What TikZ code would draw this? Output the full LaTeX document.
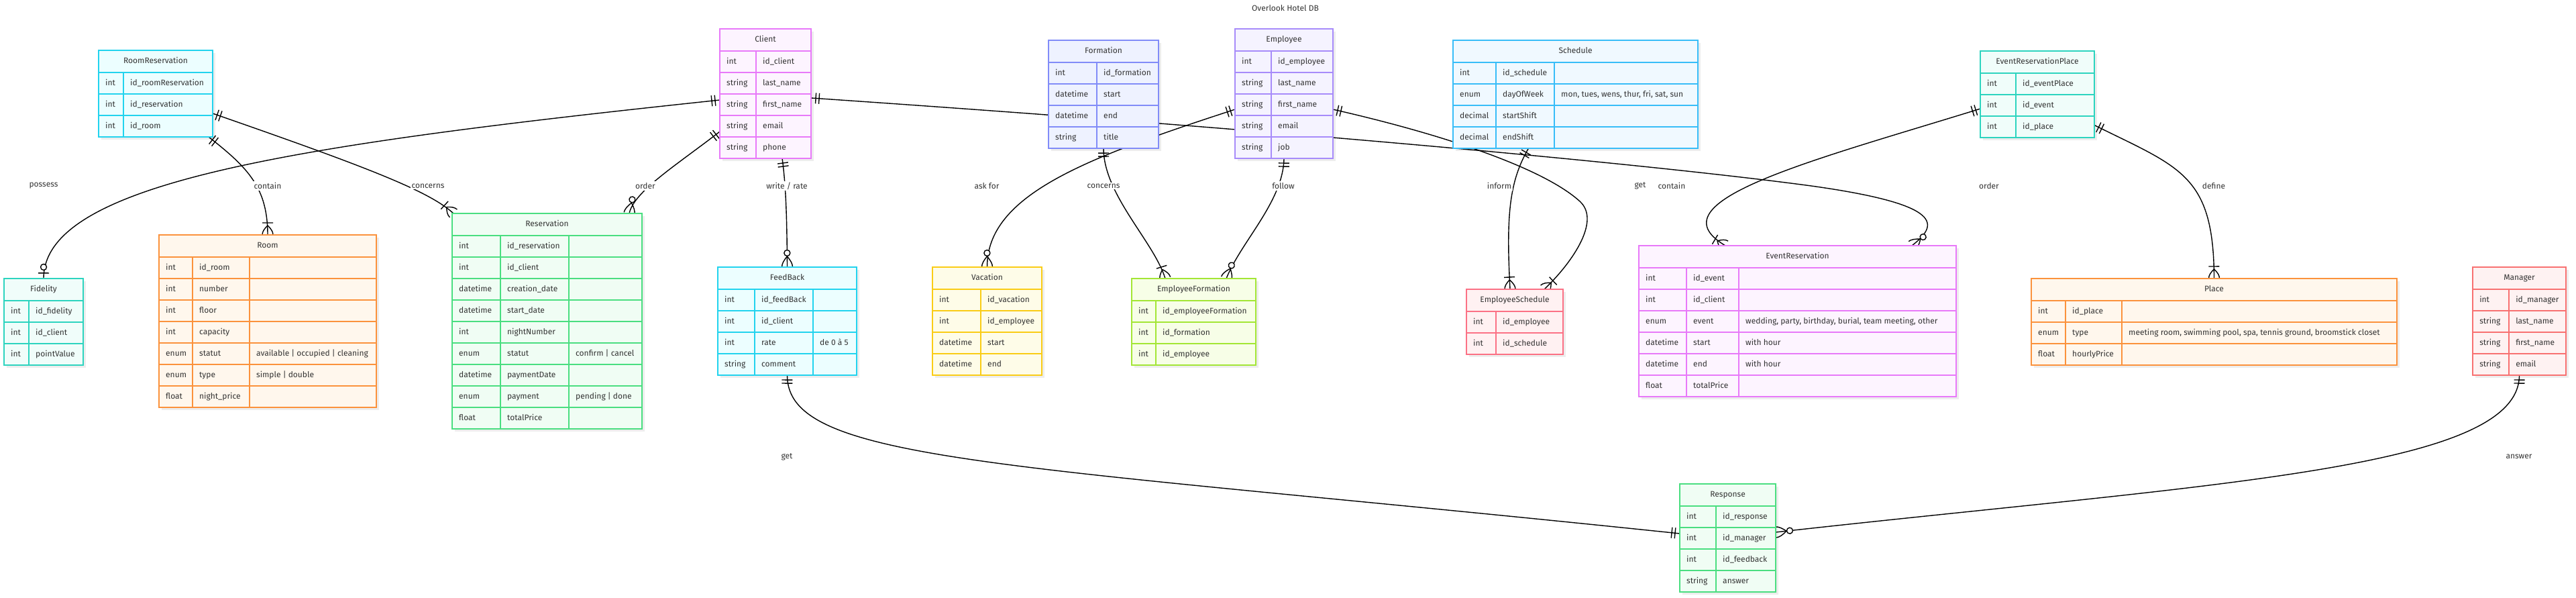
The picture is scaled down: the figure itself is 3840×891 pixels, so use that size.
\documentclass[tikz,border=0pt]{standalone}
\usepackage{fontspec}
\setmainfont{Fira Sans}
\usetikzlibrary{decorations.markings}

\definecolor{ertext}{HTML}{333333}
\definecolor{cyanA}{HTML}{22D3EE}   \definecolor{cyanB}{HTML}{ECFEFF}
\definecolor{tealA}{HTML}{2DD4BF}   \definecolor{tealB}{HTML}{F0FDFA}
\definecolor{orangeA}{HTML}{FB923C} \definecolor{orangeB}{HTML}{FFF7ED}
\definecolor{pinkA}{HTML}{E879F9}   \definecolor{pinkB}{HTML}{FDF4FF}
\definecolor{greenA}{HTML}{4ADE80}  \definecolor{greenB}{HTML}{F0FDF4}
\definecolor{indigoA}{HTML}{818CF8} \definecolor{indigoB}{HTML}{EEF2FF}
\definecolor{violetA}{HTML}{A78BFA} \definecolor{violetB}{HTML}{F5F3FF}
\definecolor{skyA}{HTML}{38BDF8}    \definecolor{skyB}{HTML}{F0F9FF}
\definecolor{yellowA}{HTML}{FACC15} \definecolor{yellowB}{HTML}{FEFCE8}
\definecolor{limeA}{HTML}{A3E635}   \definecolor{limeB}{HTML}{F7FEE7}
\definecolor{roseA}{HTML}{FB7185}   \definecolor{roseB}{HTML}{FFF1F2}
\definecolor{redA}{HTML}{F87171}    \definecolor{redB}{HTML}{FEF2F2}

\pgfdeclarelayer{shadow}
\pgfdeclarelayer{edges}
\pgfsetlayers{shadow,edges,main}

\newcommand\erfont{\fontsize{12pt}{14pt}\selectfont}
\def\ernone{-}

% crow's foot ends, drawn with the table at x=0 and the line coming from x<0
\newcommand\mkone{\draw[line width=1.4pt, black] (-7,-8) -- (-7,8) (-12,-8) -- (-12,8);}
\newcommand\mkzeroone{\draw[line width=1.4pt, black] (-8,-8) -- (-8,8);
  \draw[line width=1.4pt, black, fill=white] (-17,0) circle (4.5pt);}
\newcommand\mkonemany{\draw[line width=1.4pt, black] (-18,-8) -- (-18,8)
  (-14,0) .. controls (-9,5) and (-5,8) .. (0,8)
  (-14,0) .. controls (-9,-5) and (-5,-8) .. (0,-8);}
\newcommand\mkzeromany{\draw[line width=1.4pt, black]
  (-16,0) .. controls (-10,5) and (-5,8) .. (0,8)
  (-16,0) .. controls (-10,-5) and (-5,-8) .. (0,-8);
  \draw[line width=1.4pt, black, fill=white] (-21,0) circle (4.5pt);}

\tikzset{
  cyanbox/.style={draw=cyanA, fill=cyanB},
  tealbox/.style={draw=tealA, fill=tealB},
  orangebox/.style={draw=orangeA, fill=orangeB},
  pinkbox/.style={draw=pinkA, fill=pinkB},
  greenbox/.style={draw=greenA, fill=greenB},
  indigobox/.style={draw=indigoA, fill=indigoB},
  violetbox/.style={draw=violetA, fill=violetB},
  skybox/.style={draw=skyA, fill=skyB},
  yellowbox/.style={draw=yellowA, fill=yellowB},
  limebox/.style={draw=limeA, fill=limeB},
  rosebox/.style={draw=roseA, fill=roseB},
  redbox/.style={draw=redA, fill=redB},
  tablebox/.style={line width=2.4pt, inner sep=0pt, outer sep=0pt},
  rowline/.style={line width=2pt, fill=none},
  fieldtext/.style={anchor=west, inner sep=0pt, text=ertext, text height=9pt, text depth=2.5pt, font=\erfont},
  headtext/.style={inner sep=0pt, text=ertext, text height=9pt, text depth=2.5pt, font=\erfont},
  edgelabel/.style={fill=white, inner sep=2pt, text=ertext, font=\erfont},
  rel/.style={line width=1.4pt, black},
  one start/.style={postaction={decorate, decoration={markings,
      mark=at position 0.05pt with {\begin{scope}[xscale=-1]\mkone\end{scope}}}}},
  one end/.style={postaction={decorate, decoration={markings, mark=at position -0.05pt with {\mkone}}}},
  zeroone end/.style={postaction={decorate, decoration={markings, mark=at position -0.05pt with {\mkzeroone}}}},
  onemany end/.style={postaction={decorate, decoration={markings, mark=at position -0.05pt with {\mkonemany}}}},
  zeromany end/.style={postaction={decorate, decoration={markings, mark=at position -0.05pt with {\mkzeromany}}}}
}

% #1 name, #2 colours, #3 left, #4 top, #5 right, #6 rows, #7 column lines, #8 title, #9 type/field/comment
\newcommand\ertable[9]{%
  \pgfmathsetmacro\erbot{#4+33+32*#6}%
  \pgfmathsetmacro\erwid{#5-#3}%
  \pgfmathsetmacro\erhgt{33+32*#6}%
  \begin{pgfonlayer}{shadow}
    \fill[black!7] (#3+4,#4+4) rectangle (#5+4,\erbot+4);
  \end{pgfonlayer}
  \node[tablebox, #2, minimum width=\erwid pt, minimum height=\erhgt pt, anchor=north west] (#1) at (#3,#4) {};
  \node[headtext] (#1-title) at ({(#3+#5)/2}, #4+16.5) {#8};
  \foreach \k in {1,...,#6} \draw[#2, rowline] (#3, {#4+33+32*(\k-1)}) -- (#5, {#4+33+32*(\k-1)});
  \foreach \d [count=\j] in {#7} {
    \draw[#2, rowline] (\d, #4+33) -- (\d, \erbot);
    \coordinate (#1-d\j) at (\d, #4);
  }
  \foreach \ty/\fd/\cm [count=\i] in {#9} {
    \coordinate (#1-r\i) at (#3, {#4+33+32*\i-16});
    \node[fieldtext, xshift=10pt] (#1-t\i) at (#1-r\i) {\ty};
    \node[fieldtext, xshift=10pt] (#1-f\i) at (#1-d1 |- #1-r\i) {\fd};
    \ifx\cm\ernone\else
      \node[fieldtext, xshift=10pt] (#1-c\i) at (#1-d2 |- #1-r\i) {\cm};
    \fi
  }
}

\begin{document}
\begin{tikzpicture}[x=1pt, y=-1pt]
    \useasboundingbox (0,0) rectangle (3840,891);
    \node[headtext] (title) at (1916,13) {Overlook Hotel DB};

    % Tables (Left)
    \ertable{roomres}{cyanbox}{147}{75}{317}{3}{184}{RoomReservation}
      {int/id\_roomReservation/-, int/id\_reservation/-, int/id\_room/-}
    \ertable{fidelity}{tealbox}{6}{415}{124}{3}{43}{Fidelity}
      {int/id\_fidelity/-, int/id\_client/-, int/pointValue/-}
    \ertable{room}{orangebox}{237}{350}{561}{7}{287,372}{Room}
      {int/id\_room/-, int/number/-, int/floor/-, int/capacity/-,
       enum/statut/available | occupied | cleaning, enum/type/simple | double, float/night\_price/-}
    \ertable{client}{pinkbox}{1073}{43}{1209}{5}{1127}{Client}
      {int/id\_client/-, string/last\_name/-, string/first\_name/-, string/email/-, string/phone/-}
    \ertable{reservation}{greenbox}{674}{318}{957}{9}{746,848}{Reservation}
      {int/id\_reservation/-, int/id\_client/-, datetime/creation\_date/-, datetime/start\_date/-,
       int/nightNumber/-, enum/statut/confirm | cancel, datetime/paymentDate/-,
       enum/payment/pending | done, float/totalPrice/-}
    \ertable{feedback}{cyanbox}{1070}{398}{1277}{4}{1125,1212}{FeedBack}
      {int/id\_feedBack/-, int/id\_client/-, int/rate/de 0 à 5, string/comment/-}

    % Tables (Middle)
    \ertable{formation}{indigobox}{1563}{60}{1727}{4}{1635}{Formation}
      {int/id\_formation/-, datetime/start/-, datetime/end/-, string/title/-}
    \ertable{employee}{violetbox}{1841}{43}{1987}{5}{1895}{Employee}
      {int/id\_employee/-, string/last\_name/-, string/first\_name/-, string/email/-, string/job/-}
    \ertable{schedule}{skybox}{2166}{60}{2531}{4}{2230,2317}{Schedule}
      {int/id\_schedule/-, enum/dayOfWeek/{mon, tues, wens, thur, fri, sat, sun},
       decimal/startShift/-, decimal/endShift/-}
    \ertable{vacation}{yellowbox}{1390}{398}{1553}{4}{1462}{Vacation}
      {int/id\_vacation/-, int/id\_employee/-, datetime/start/-, datetime/end/-}
    \ertable{empform}{limebox}{1687}{415}{1872}{3}{1723}{EmployeeFormation}
      {int/id\_employeeFormation/-, int/id\_formation/-, int/id\_employee/-}
    \ertable{empsched}{rosebox}{2186}{431}{2330}{2}{2230}{EmployeeSchedule}
      {int/id\_employee/-, int/id\_schedule/-}

    % Tables (Right)
    \ertable{eventres}{pinkbox}{2443}{366}{2916}{6}{2514,2592}{EventReservation}
      {int/id\_event/-, int/id\_client/-,
       enum/event/{wedding, party, birthday, burial, team meeting, other},
       datetime/start/with hour, datetime/end/with hour, float/totalPrice/-}
    \ertable{evresplace}{tealbox}{2952}{76}{3122}{3}{3005}{EventReservationPlace}
      {int/id\_eventPlace/-, int/id\_event/-, int/id\_place/-}
    \ertable{place}{orangebox}{3028}{415}{3573}{3}{3079,3163}{Place}
      {int/id\_place/-, enum/type/{meeting room, swimming pool, spa, tennis ground, broomstick closet},
       float/hourlyPrice/-}
    \ertable{manager}{redbox}{3686}{398}{3825}{4}{3740}{Manager}
      {int/id\_manager/-, string/last\_name/-, string/first\_name/-, string/email/-}
    \ertable{response}{greenbox}{2504}{721}{2647}{4}{2558}{Response}
      {int/id\_response/-, int/id\_manager/-, int/id\_feedback/-, string/answer/-}

    % Relations, under the tables
    \coordinate (orderbend) at (2700,277);
    \coordinate (getbend) at (2355,300);
    \begin{pgfonlayer}{edges}
        \draw[rel, one start, zeroone end] ([yshift=-9.5pt]client.west) .. controls (450,215) and (65,270) .. (fidelity.north);
        \draw[rel, one start, onemany end] ([xshift=-6pt]roomres.south east) .. controls (370,250) and (399,280) .. (room.north);
        \draw[rel, one start, onemany end] ([yshift=-29.5pt]roomres.east) .. controls (550,250) and (640,285) .. ([xshift=2pt]reservation.north west);
        \draw[rel, one start, zeromany end] ([yshift=-56.5pt]client.west) .. controls (1010,245) and (945,285) .. ([xshift=-19pt]reservation.north east);
        \draw[rel, one start, zeromany end] ([xshift=25pt]client.south) .. controls (1172,280) and (1173,330) .. (feedback.north);
        \draw[rel, one start, zeromany end] ([yshift=-6.5pt]client.east) .. controls (2000,200) and (2500,250) .. (orderbend)
            .. controls (2900,305) and (2890,335) .. ([xshift=-66pt]eventres.north east);

        \draw[rel, one start, zeromany end] ([yshift=-23.5pt]employee.west) .. controls (1620,235) and (1471,290) .. (vacation.north);
        \draw[rel, one start, onemany end] (formation.south) .. controls (1645,290) and (1720,360) .. ([xshift=50pt]empform.north west);
        \draw[rel, one start, zeromany end] (employee.south) .. controls (1913,300) and (1850,360) .. ([xshift=-44pt]empform.north east);
        \draw[rel, one start, onemany end] ([yshift=-23.5pt]employee.east) .. controls (2150,200) and (2300,250) .. (getbend)
            .. controls (2388,330) and (2340,395) .. ([xshift=-28pt]empsched.north east);
        \draw[rel, one start, onemany end] ([xshift=-70pt]schedule.south) .. controls (2250,270) and (2245,320) .. ([xshift=65pt]empsched.north west);

        \draw[rel, one start, onemany end] ([yshift=-21.5pt]evresplace.west) .. controls (2700,240) and (2460,300) .. ([xshift=129pt]eventres.north west);
        \draw[rel, one start, onemany end] ([yshift=-46pt]evresplace.east) .. controls (3250,250) and (3300,260) .. (place.north);

        \draw[rel, one start, one end] (feedback.south) .. controls (1173,690) and (1500,690) .. ([yshift=6.5pt]response.west);
        \draw[rel, one start, zeromany end] (manager.south) .. controls (3755,700) and (3300,720) .. ([yshift=8.5pt]response.east);
    \end{pgfonlayer}

    % Relation names
    \node[edgelabel] (l-possess) at (65,277) {possess};
    \node[edgelabel] (l-contain) at (399,277) {contain};
    \node[edgelabel] (l-concerns) at (638,277) {concerns};
    \node[edgelabel] (l-order) at (962,277) {order};
    \node[edgelabel] (l-write) at (1173,277) {write / rate};
    \node[edgelabel] (l-askfor) at (1471,277) {ask for};
    \node[edgelabel] (l-concernsb) at (1645,277) {concerns};
    \node[edgelabel] (l-follow) at (1913,277) {follow};
    \node[edgelabel] (l-inform) at (2235,277) {inform};
    \node[edgelabel] (l-get) at (2445,277) {get};
    \node[edgelabel] (l-containb) at (2492,277) {contain};
    \node[edgelabel] (l-orderb) at (2965,277) {order};
    \node[edgelabel] (l-define) at (3300,277) {define};
    \node[edgelabel] (l-getb) at (1173,681) {get};
    \node[edgelabel] (l-answer) at (3755,680) {answer};
\end{tikzpicture}
\end{document}
